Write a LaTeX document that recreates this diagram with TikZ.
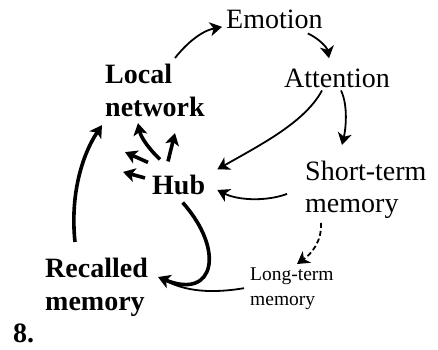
\documentclass[tikz,border=0pt]{standalone}
\usepackage{fontspec}
\setmainfont{Liberation Serif}
\usetikzlibrary{arrows.meta,calc}
\begin{document}
\begin{tikzpicture}[x=1pt,y=-1pt,
  lbl/.style={inner sep=0pt,font=\fontsize{28}{32}\selectfont,align=left},
  blbl/.style={inner sep=0pt,font=\fontsize{28}{33}\selectfont\bfseries,align=left},
  slbl/.style={inner sep=0pt,font=\fontsize{19.5}{25}\selectfont,align=left},
  thinarr/.style={line width=1.8pt,-{Stealth[length=12pt,width=14pt,inset=3.5pt]}},
  thickarr/.style={line width=3.6pt,-{Stealth[length=12pt,width=14pt,inset=3pt]}},
  thinline/.style={line width=1.8pt}
]
\useasboundingbox (0,0) rectangle (438,349);
% nodes
\node[lbl,anchor=base west] (emo) at (226,28) {Emotion};
\node[lbl,anchor=base west] (att) at (284,87) {Attention};
\node[lbl,anchor=north west] (stm) at (305,161) {Short-term\\memory};
\node[slbl,anchor=north west] (ltm) at (250,268) {Long-term\\memory};
\node[blbl,anchor=north west] (loc) at (105,64) {Local\\network};
\node[blbl,anchor=base west] (hub) at (152,194) {Hub};
\node[blbl,anchor=north west] (rec) at (45,258) {Recalled\\memory};
\node[blbl,anchor=base west] (eight) at (13,342) {8.};
% connectors
\draw[thinarr] ($(loc.north west)+(70,-6)$) .. controls (186,44) and (201,31) .. ($(emo.west)+(-4,8)$);
\draw[thinarr] ($(emo.south east)+(-15,5)$) .. controls (318,38) and (327,47) .. ($(att.north west)+(45,-10)$);
\draw[thinarr] ($(att.south west)+(38,3)$) .. controls (305,122) and (262,144) .. ($(hub.north east)+(12,-5)$);
\draw[thinarr] ($(att.south west)+(57,3)$) .. controls (348,105) and (346,128) .. ($(stm.north west)+(37,-16)$);
\draw[thinarr] ($(stm.west)+(-18,4)$) .. controls (265,202) and (237,200) .. ($(hub.east)+(12,5.5)$);
\draw[thinarr,dashed,dash pattern=on 5pt off 3pt] ($(stm.south west)+(16,4)$) .. controls (322,242) and (311,254) .. ($(ltm.north west)+(47,-4)$);
\draw[thinline] ($(ltm.west)+(-6,-1)$) .. controls (215,293) and (185,293) .. ($(rec.north west)+(116,20)$);
\draw[thickarr] ($(hub.south)+(4,8)$) .. controls (225,250) and (215,300) .. ($(rec.north west)+(113,19)$);
\draw[thickarr] ($(rec.north west)+(30,-16)$) .. controls (70,195) and (82,155) .. ($(loc.south west)+(-3,8)$);
\draw[thickarr] ($(hub.north west)+(8,-15)$) .. controls (150,150) and (141,138) .. ($(loc.south)+(-17,6)$);
\draw[thickarr] ($(hub.north west)+(16,-13)$) -- ($(loc.south)+(20,16)$);
\draw[thickarr] ($(hub.north west)+(-4,-12)$) -- ($(loc.south west)+(20,35)$);
\draw[thickarr] ($(hub.west)+(-7,-6.5)$) -- ($(hub.west)+(-29,-12.5)$);
\end{tikzpicture}
\end{document}
